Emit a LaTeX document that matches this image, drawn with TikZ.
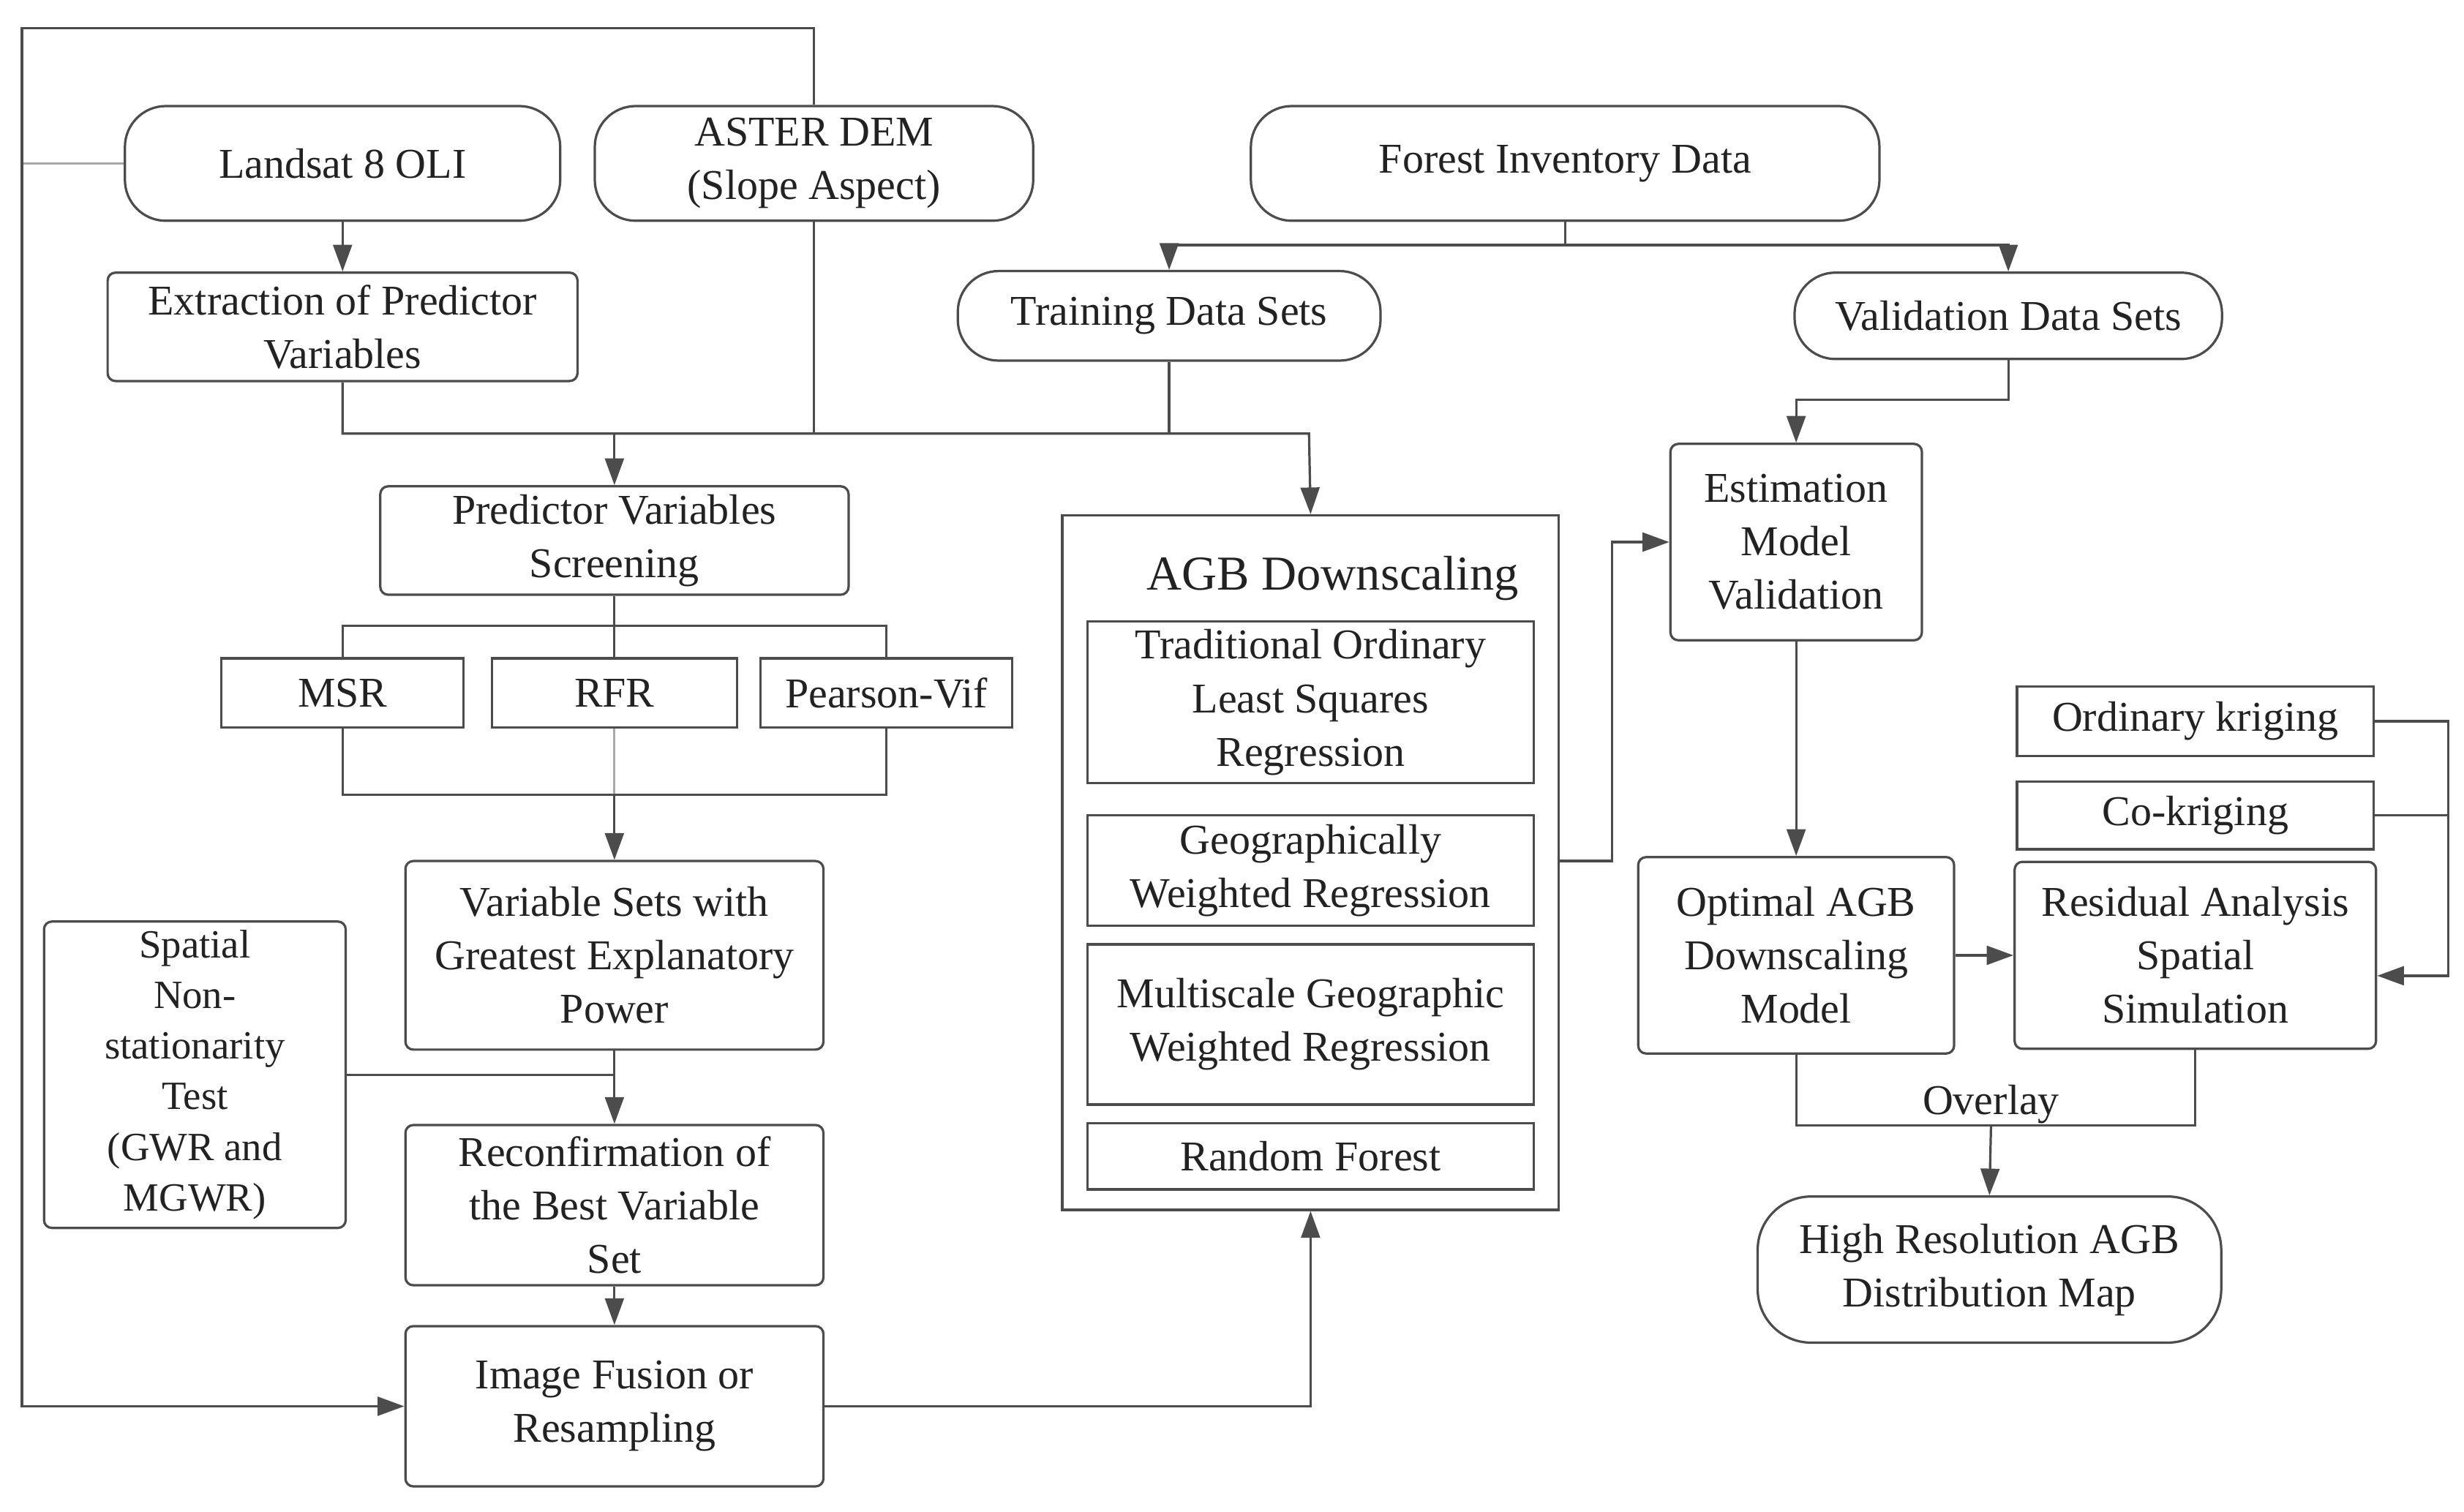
\documentclass[tikz,border=0pt]{standalone}
\usepackage{fontspec}
\setmainfont{Liberation Serif}
\usetikzlibrary{arrows.meta}
\definecolor{linegray}{HTML}{4C4C4C}
\definecolor{lightline}{HTML}{A8A8A8}
\definecolor{textgray}{HTML}{222222}
\newcommand{\boxfont}{\fontsize{27}{34}\selectfont}
\tikzset{
  term/.style={draw=linegray,line width=1.5pt,rounded corners=26pt,inner sep=0pt,align=center,text=textgray,font=\boxfont},
  proc/.style={draw=linegray,line width=1.5pt,rounded corners=5pt,inner sep=0pt,align=center,text=textgray,font=\boxfont},
  plainbox/.style={draw=linegray,line width=1.5pt,inner sep=0pt,align=center,text=textgray,font=\boxfont},
  conn/.style={draw=linegray,line width=1.5pt},
  arr/.style={conn,-{Triangle[length=17pt,width=12pt]}},
}
\begin{document}
\begin{tikzpicture}[x=1pt,y=-1pt]
	\useasboundingbox (0,0) rectangle (1568,962);
	% input data
	\node[term,minimum width=277,minimum height=73] (landsat) at (218,104) {Landsat 8 OLI};
	\node[term,minimum width=279,minimum height=73] (aster) at (518,104) {ASTER DEM\\(Slope Aspect)};
	\node[term,minimum width=400,minimum height=73] (forest) at (996,104) {Forest Inventory Data};
	\node[proc,minimum width=299,minimum height=69] (extract) at (218,208) {Extraction of Predictor\\Variables};
	\node[term,minimum width=269,minimum height=57] (train) at (744,201) {Training Data Sets};
	\node[term,minimum width=272,minimum height=55] (valid) at (1278,201) {Validation Data Sets};
	% variable selection
	\node[proc,minimum width=298,minimum height=69] (screen) at (391,344) {Predictor Variables\\Screening};
	\node[plainbox,minimum width=154,minimum height=44] (msr) at (218,441) {MSR};
	\node[plainbox,minimum width=156,minimum height=44] (rfr) at (391,441) {RFR};
	\node[plainbox,minimum width=160,minimum height=44] (pearson) at (564,441) {Pearson-Vif};
	\node[proc,minimum width=266,minimum height=120] (varsets) at (391,608) {Variable Sets with\\Greatest Explanatory\\Power};
	\node[proc,minimum width=192,minimum height=195,font=\fontsize{25.5}{32.2}\selectfont] (spatial) at (124,684) {Spatial\\Non-\\stationarity\\Test\\(GWR and\\MGWR)};
	\node[proc,minimum width=266,minimum height=102] (reconf) at (391,767) {Reconfirmation of\\the Best Variable\\Set};
	\node[proc,minimum width=266,minimum height=102] (fusion) at (391,895) {Image Fusion or\\Resampling};
	% downscaling models
	\node[plainbox,minimum width=316,minimum height=442] (agb) at (834,549) {};
	\node[text=textgray,font=\fontsize{31}{36}\selectfont] (agbtitle) at (848,368) {AGB Downscaling};
	\node[plainbox,minimum width=284,minimum height=103] (tols) at (834,447) {Traditional Ordinary\\Least Squares\\Regression};
	\node[plainbox,minimum width=284,minimum height=70] (gwr) at (834,554) {Geographically\\Weighted Regression};
	\node[plainbox,minimum width=284,minimum height=102] (mgwr) at (834,652) {Multiscale Geographic\\Weighted Regression};
	\node[plainbox,minimum width=284,minimum height=42] (rf) at (834,736) {Random Forest};
	% validation and residuals
	\node[proc,minimum width=160,minimum height=125] (estim) at (1143,345) {Estimation\\Model\\Validation};
	\node[proc,minimum width=201,minimum height=125] (optimal) at (1143,608) {Optimal AGB\\Downscaling\\Model};
	\node[proc,minimum width=230,minimum height=119] (resid) at (1397,608) {Residual Analysis\\Spatial\\Simulation};
	\node[plainbox,minimum width=227,minimum height=44] (ok) at (1397,459) {Ordinary kriging};
	\node[plainbox,minimum width=227,minimum height=43] (cok) at (1397,519) {Co-kriging};
	\node[term,minimum width=295,minimum height=93,rounded corners=34pt] (hires) at (1266,808) {High Resolution AGB\\Distribution Map};
	% connectors
	\coordinate (busR) at (833,276);
	\coordinate (fsplit) at (996,156);
	\draw[arr] (landsat) -- (extract);
	\draw[conn,draw=lightline] (landsat.west) -- (14,104);
	\draw[arr] (aster.north) -- (518,18) -- (14,18) |- (fusion.west);
	\draw[conn] (forest.south) -- (fsplit);
	\draw[arr] (fsplit) -| (train.north);
	\draw[arr] (fsplit) -| (valid.north);
	\draw[arr] (extract.south) |- (busR) -- (agb.north);
	\draw[conn] (aster.south) -- (aster.south |- busR);
	\draw[conn] (train.south) -- (train.south |- busR);
	\draw[arr] (screen.north |- busR) -- (screen.north);
	\draw[conn] (screen.south) -- (rfr.north);
	\draw[conn] (msr.north) -- ++(0,-20) -| (pearson.north);
	\draw[conn] (msr.south) -- ++(0,42) -| (pearson.south);
	\draw[conn,draw=lightline] (rfr.south) -- ++(0,42);
	\draw[arr] (391,505) -- (varsets.north);
	\draw[conn] (spatial.east) -- (spatial.east -| varsets.south);
	\draw[arr] (varsets.south) -- (reconf.north);
	\draw[arr] (reconf) -- (fusion);
	\draw[arr] (fusion.east) -| (agb.south);
	\draw[arr] (agb.east |- 0,548) -- (1026,548) |- (estim.west);
	\draw[arr] (valid.south) -- ++(0,25) -| (estim.north);
	\draw[arr] (estim) -- (optimal);
	\draw[arr] (optimal) -- (resid);
	\draw[arr] (ok.east) -- (1558,459) |- (resid.east |- 0,621);
	\draw[conn] (cok.east) -- (1558,519);
	\draw[conn] (optimal.south) -- ++(0,45) -| (resid.south);
	\draw[arr] (1267,716) -- (hires.north);
	\node[text=textgray,font=\boxfont] (overlay) at (1267,703) {Overlay};
\end{tikzpicture}
\end{document}
